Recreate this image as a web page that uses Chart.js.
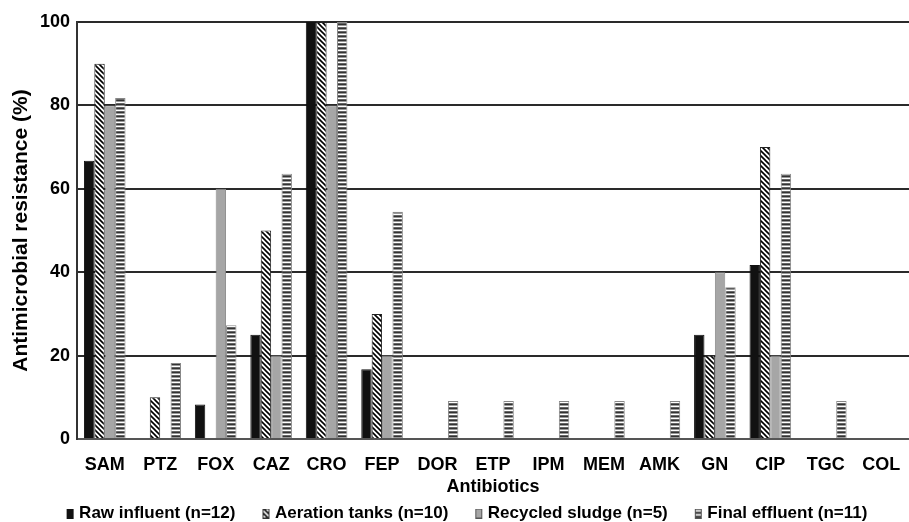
<!DOCTYPE html>
<html>
<head>
<meta charset="utf-8">
<script src="https://cdn.jsdelivr.net/npm/chart.js@4.4.1/dist/chart.umd.min.js"></script>
<style>
  html, body { margin: 0; padding: 0; background: #fff; }
  #wrap { width: 909px; height: 522px; position: relative; }
</style>
</head>
<body>
<div id="wrap"><canvas id="chart"></canvas></div>
<script>
const antibiotics = ['SAM', 'PTZ', 'FOX', 'CAZ', 'CRO', 'FEP', 'DOR', 'ETP', 'IPM', 'MEM', 'AMK', 'GN', 'CIP', 'TGC', 'COL'];
const rawInfluent = [66.7, 0, 8.3, 25, 100, 16.7, 0, 0, 0, 0, 0, 25, 41.7, 0, 0];
const aerationTanks = [90, 10, 0, 50, 100, 30, 0, 0, 0, 0, 0, 20, 70, 0, 0];
const recycledSludge = [80, 0, 60, 20, 80, 20, 0, 0, 0, 0, 0, 40, 20, 0, 0];
const finalEffluent = [81.8, 18.2, 27.3, 63.6, 100, 54.5, 9.1, 9.1, 9.1, 9.1, 9.1, 36.4, 63.6, 9.1, 0];
const seriesNames = ['Raw influent (n=12)', 'Aeration tanks (n=10)', 'Recycled sludge (n=5)', 'Final effluent (n=11)'];

// hatch patterns
function diagPattern() {
  const c = document.createElement('canvas');
  c.width = 5; c.height = 5;
  const g = c.getContext('2d');
  g.fillStyle = '#fff';
  g.fillRect(0, 0, 5, 5);
  g.strokeStyle = '#000';
  g.lineWidth = 1.6;
  g.beginPath();
  g.moveTo(-1, -1); g.lineTo(6, 6);
  g.moveTo(-1, 4); g.lineTo(1, 6);
  g.moveTo(4, -1); g.lineTo(6, 1);
  g.stroke();
  return g.createPattern(c, 'repeat');
}

function stripePattern() {
  const c = document.createElement('canvas');
  c.width = 4; c.height = 4;
  const g = c.getContext('2d');
  g.fillStyle = '#fff';
  g.fillRect(0, 0, 4, 4);
  g.fillStyle = '#333';
  g.fillRect(0, 0, 4, 1);
  g.fillStyle = '#999';
  g.fillRect(0, 1, 4, 1);
  g.fillStyle = '#666';
  g.fillRect(0, 3, 4, 1);
  return g.createPattern(c, 'repeat');
}

const fills = ['#111', diagPattern(), '#a6a6a6', stripePattern()];
const borders = ['#111', '#222', '#8a8a8a', '#888'];

// legend icon: wider than the box slot, box pushed to the right end
// so items sit further apart and the text hugs the box
function legendIcon(i) {
  const c = document.createElement('canvas');
  c.width = 37; c.height = 10;
  const g = c.getContext('2d');
  g.fillStyle = fills[i];
  g.fillRect(29, 0, 7, 10);
  if (i > 0) {
    g.strokeStyle = i === 1 ? '#333' : '#555';
    g.lineWidth = 1;
    g.strokeRect(29.5, 0.5, 6, 9);
  }
  return c;
}

Chart.defaults.font.family = '"Liberation Sans", Arial, sans-serif';
Chart.defaults.color = '#000';

new Chart(document.getElementById('chart'), {
  type: 'bar',
  data: {
    labels: antibiotics,
    datasets: [rawInfluent, aerationTanks, recycledSludge, finalEffluent].map((d, i) => ({
      label: seriesNames[i],
      data: d,
      backgroundColor: fills[i],
      borderColor: borders[i],
      borderWidth: 1,
      categoryPercentage: 0.75,
      barPercentage: 1.0
    }))
  },
  options: {
    responsive: true,
    maintainAspectRatio: false,
    animation: false,
    layout: { padding: { top: 22, right: 0, left: 0, bottom: 0 } },
    plugins: {
      tooltip: { enabled: false },
      legend: {
        position: 'bottom',
        maxHeight: 19,
        labels: {
          usePointStyle: true,
          pointStyleWidth: 29,
          boxHeight: 10,
          padding: 2,
          font: { size: 17, weight: 'bold' },
          color: '#000',
          generateLabels: (chart) => {
            const items = Chart.defaults.plugins.legend.labels.generateLabels(chart);
            items.forEach((it, i) => { it.pointStyle = legendIcon(i); });
            return items;
          }
        }
      }
    },
    scales: {
      x: {
        grid: { display: false, drawTicks: false },
        border: { color: '#555', width: 2 },
        ticks: { font: { size: 18, weight: 'bold' }, color: '#000', padding: 15, maxRotation: 0, autoSkip: false },
        title: { display: true, text: 'Antibiotics', font: { size: 18, weight: 'bold' }, color: '#000', padding: { top: 0, bottom: 5 } },
        afterFit: (s) => { s.height = 64; s.paddingLeft = 0; s.paddingRight = 0; }
      },
      y: {
        min: 0,
        max: 100,
        ticks: { stepSize: 20, font: { size: 18, weight: 'bold' }, color: '#000', padding: 7 },
        grid: { color: '#2a2a2a', lineWidth: 2, drawTicks: false },
        border: { color: '#333', width: 2 },
        title: { display: true, text: 'Antimicrobial resistance (%)', font: { size: 21, weight: 'bold' }, color: '#000', padding: { top: 9, bottom: 0 } },
        afterFit: (s) => { s.width = 77; }
      }
    }
  }
});
</script>
</body>
</html>
